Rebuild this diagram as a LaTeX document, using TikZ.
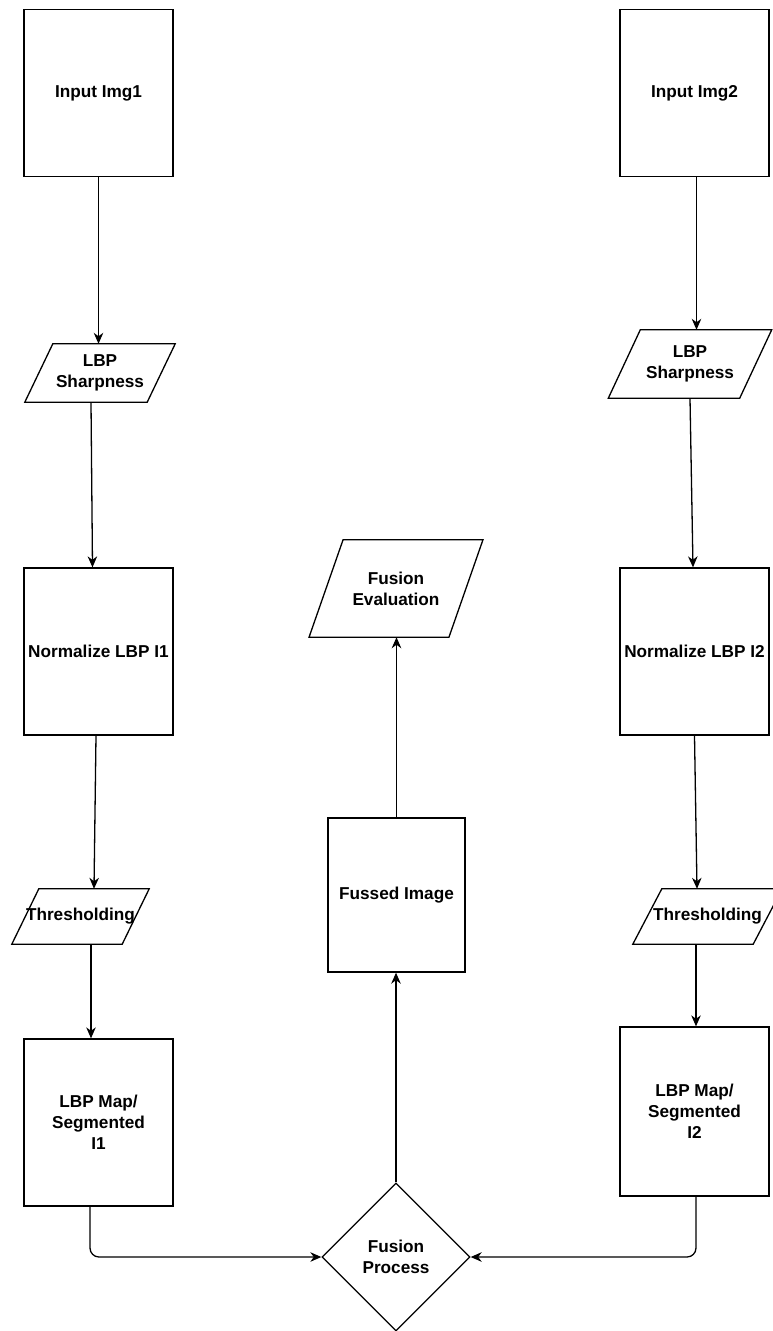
\documentclass[tikz,border=0pt]{standalone}
\usepackage{fontspec}
\setmainfont{Liberation Sans}
\usetikzlibrary{arrows.meta,shapes.geometric}
% outline of a parallelogram around a (borderless) node: #1 node name, #2 horizontal slant
\newcommand\paraoutline[2]{%
  \draw[edge] ([xshift=#2/2]#1.north west) -- ([xshift=#2/2]#1.north east)
    -- ([xshift=-#2/2]#1.south east) -- ([xshift=-#2/2]#1.south west) -- cycle;}
\begin{document}
\begin{tikzpicture}[x=1pt,y=-1pt,
  edge/.style={line width=1.3pt, line join=miter},
  lbl/.style={font=\bfseries\fontsize{17.2}{21}\selectfont, align=center, inner sep=0pt},
  box/.style={lbl, edge, draw, minimum width=149pt, minimum height=167pt},
  para/.style={lbl},
  flow/.style={edge, -{Stealth[length=11pt,width=9.5pt,inset=3.5pt]}},
  merge/.style={edge, rounded corners=9pt, -{Stealth[length=11pt,width=9.5pt,inset=3.5pt]}}]
\useasboundingbox[fill=white] (0,0) rectangle (772,1331);

% left branch
\node[box] (in1) at (98.5,93) {Input Img1};
\node[para, minimum width=122pt, minimum height=58pt] (lbp1) at (100,373) {LBP\\Sharpness};
\paraoutline{lbp1}{28}
\node[box] (norm1) at (98.5,651.5) {Normalize LBP I1};
\node[para, minimum width=110pt, minimum height=55pt] (thr1) at (80.5,916.5) {Thresholding};
\paraoutline{thr1}{27}
\node[box] (map1) at (98.5,1122.5) {LBP Map/\\Segmented\\I1};

% right branch
\node[box] (in2) at (694.5,93) {Input Img2};
\node[para, minimum width=131pt, minimum height=68pt] (lbp2) at (690,364) {LBP\\Sharpness};
\paraoutline{lbp2}{32}
\node[box] (norm2) at (694.5,651.5) {Normalize LBP I2};
\node[para, minimum width=120pt, minimum height=55pt] (thr2) at (707.5,916.5) {Thresholding};
\paraoutline{thr2}{29}
\node[box, minimum height=169pt] (map2) at (694.5,1111.5) {LBP Map/\\Segmented\\I2};

% centre column
\node[lbl, edge, draw, diamond, minimum width=148pt, minimum height=148pt] (fus) at (396,1257) {Fusion\\Process};
\node[box, minimum width=137pt, minimum height=154pt] (img) at (396.5,895) {Fussed Image};
\node[para, minimum width=139.5pt, minimum height=97pt] (eval) at (396,588.5) {Fusion\\Evaluation};
\paraoutline{eval}{34}

% connectors
\draw[flow] (in1.south) -- (in1.south |- lbp1.north);
\draw[flow] ([xshift=-9pt]lbp1.south) -- ([xshift=-6pt]norm1.north);
\draw[flow] ([xshift=-2.5pt]norm1.south) -- ([xshift=-4.5pt]thr1.north -| norm1.north);
\draw[flow] ([xshift=10.5pt]thr1.south) -- ([xshift=-7.5pt]map1.north);

\draw[flow] ([xshift=2pt]in2.south) -- ([xshift=2pt]in2.south |- lbp2.north);
\draw[flow] (lbp2.south) -- ([xshift=-1.5pt]norm2.north);
\draw[flow] (norm2.south) -- ([xshift=2.5pt]thr2.north -| norm2.north);
\draw[flow] ([xshift=-11.5pt]thr2.south) -- ([xshift=1.5pt]map2.north);

\draw[merge] ([xshift=-8.5pt]map1.south) |- (fus.west);
\draw[merge] ([xshift=1.5pt]map2.south) |- (fus.east);
\draw[flow] (fus.north) -- (img.south -| fus.north);
\draw[flow] (img.north) -- (eval.south -| img.north);
\end{tikzpicture}
\end{document}
